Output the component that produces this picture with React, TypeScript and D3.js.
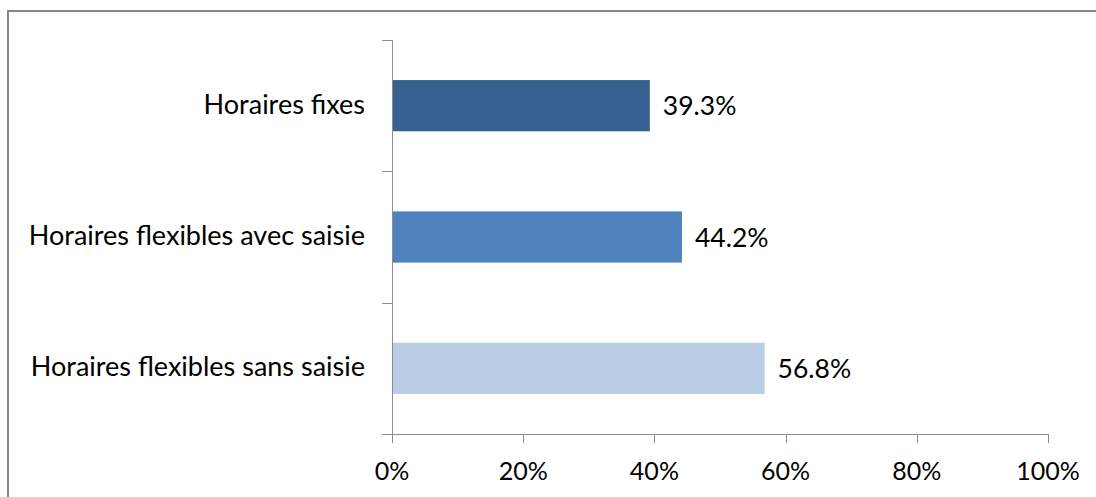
import React from "react";
import * as d3 from "d3";

const categories = ["Horaires fixes", "Horaires flexibles avec saisie", "Horaires flexibles sans saisie"];
const values = [39.3, 44.2, 56.8];
const barColors = ["#36608F", "#4F81BD", "#B9CDE5"];
const xTicks = [0, 20, 40, 60, 80, 100];

const W = 1096;
const H = 497;
const FONT = "Lato, 'Open Sans', sans-serif";

export default function App() {
  const x = d3.scaleLinear().domain([0, 100]).range([392, 1048]);
  const y = d3.scaleBand<string>().domain(categories).range([40, 434]).paddingInner(0.61).paddingOuter(0.305);
  const step = y.step();
  const boundaries = d3.range(categories.length + 1).map((i) => 40 + i * step);
  const axisColor = "#8C8C8C";
  return (
    <svg width={W} height={H} style={{ position: "absolute", left: 0, top: 0, background: "#fff" }}>
      <rect x={8} y={11} width={W + 50} height={H + 50} fill="#fff" stroke="#878787" strokeWidth={2} />
      {categories.map((c, i) => (
        <rect key={c} x={x(0)} y={y(c)} width={x(values[i]) - x(0)} height={y.bandwidth()} fill={barColors[i]} />
      ))}
      {/* y axis */}
      <line x1={392.5} x2={392.5} y1={40} y2={434} stroke={axisColor} strokeWidth={1} />
      {boundaries.slice(0, categories.length).map((b, i) => (
        <line key={i} x1={382} x2={392} y1={Math.round(b) + 0.5} y2={Math.round(b) + 0.5} stroke={axisColor} />
      ))}
      {/* x axis */}
      <line x1={382} x2={x(100) + 0.5} y1={434.5} y2={434.5} stroke={axisColor} />
      {xTicks.map((t) => (
        <line key={t} x1={Math.round(x(t)) + 0.5} x2={Math.round(x(t)) + 0.5} y1={434} y2={443} stroke={axisColor} />
      ))}
      {xTicks.map((t) => (
        <text key={t} x={x(t)} y={480} textAnchor="middle" fontFamily={FONT} fontSize={25} fill="#000">
          {t}%
        </text>
      ))}
      {categories.map((c) => (
        <text key={c} x={365} y={(y(c) as number) + y.bandwidth() / 2 + 8} textAnchor="end" fontFamily={FONT} fontSize={27} fill="#000">
          {c}
        </text>
      ))}
      {categories.map((c, i) => (
        <text key={c} x={x(values[i]) + 13} y={(y(c) as number) + y.bandwidth() / 2 + 9.5} fontFamily={FONT} fontSize={26.5} fill="#000">
          {values[i].toFixed(1)}%
        </text>
      ))}
    </svg>
  );
}
